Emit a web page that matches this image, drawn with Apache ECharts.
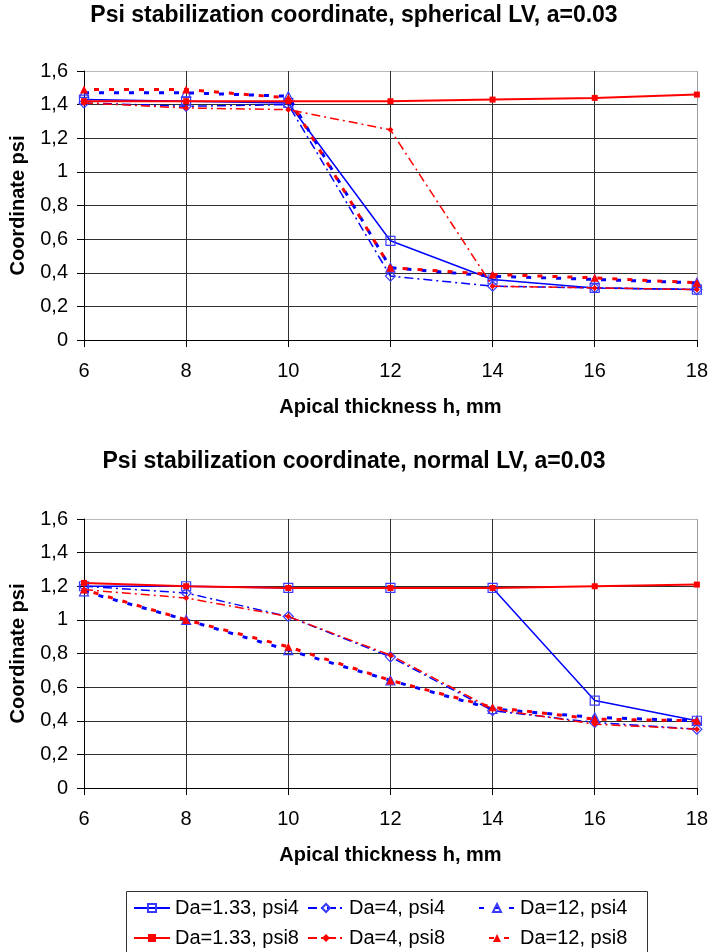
<!DOCTYPE html>
<html>
<head>
<meta charset="utf-8">
<script src="https://cdn.jsdelivr.net/npm/echarts@6/dist/echarts.min.js"></script>
<style>
html,body{margin:0;padding:0;background:#fff;}
#main{width:711px;height:952px;}
</style>
</head>
<body>
<div id="main"></div>
<script>
// ---- data ----
var thickness = [6, 8, 10, 12, 14, 16, 18];
var yTicks = [0, 0.2, 0.4, 0.6, 0.8, 1, 1.2, 1.4, 1.6];

var seriesNames = ['Da=1.33, psi4', 'Da=4, psi4', 'Da=12, psi4', 'Da=1.33, psi8', 'Da=4, psi8', 'Da=12, psi8'];

// spherical LV
var sph_133_psi4 = [1.43, 1.42, 1.41, 0.59, 0.36, 0.31, 0.30];
var sph_4_psi4   = [1.41, 1.39, 1.40, 0.38, 0.32, 0.31, 0.30];
var sph_12_psi4  = [1.47, 1.47, 1.45, 0.43, 0.38, 0.36, 0.34];
var sph_133_psi8 = [1.42, 1.42, 1.42, 1.42, 1.43, 1.44, 1.46];
var sph_4_psi8   = [1.41, 1.38, 1.37, 1.25, 0.32, 0.31, 0.30];
var sph_12_psi8  = [1.49, 1.49, 1.44, 0.43, 0.39, 0.37, 0.34];

// normal LV
var nor_133_psi4 = [1.20, 1.20, 1.19, 1.19, 1.19, 0.52, 0.40];
var nor_4_psi4   = [1.20, 1.16, 1.02, 0.78, 0.46, 0.39, 0.35];
var nor_12_psi4  = [1.17, 1.00, 0.82, 0.64, 0.47, 0.42, 0.40];
var nor_133_psi8 = [1.22, 1.20, 1.19, 1.19, 1.19, 1.20, 1.21];
var nor_4_psi8   = [1.18, 1.13, 1.02, 0.79, 0.47, 0.38, 0.35];
var nor_12_psi8  = [1.18, 1.00, 0.84, 0.64, 0.48, 0.41, 0.40];

var sphData = [sph_133_psi4, sph_4_psi4, sph_12_psi4, sph_133_psi8, sph_4_psi8, sph_12_psi8];
var norData = [nor_133_psi4, nor_4_psi4, nor_12_psi4, nor_133_psi8, nor_4_psi8, nor_12_psi8];

// ---- styles ----
var BLUE = '#0000ff', RED = '#ff0000';
var styles = [
  {line: {color: BLUE, width: 1.5, type: 'solid'}, symbol: 'rect', size: 9, item: {color: 'rgba(0,0,0,0)', borderColor: '#3a3aff', borderWidth: 1.2}},
  {line: {color: BLUE, width: 1.5, type: [9, 4, 2, 4]}, symbol: 'diamond', size: 10, item: {color: 'rgba(0,0,0,0)', borderColor: '#3a3aff', borderWidth: 1.2}},
  {line: {color: BLUE, width: 3, type: [5, 10], dashOffset: 0}, symbol: 'triangle', size: 9, item: {color: 'rgba(0,0,0,0)', borderColor: '#3a3aff', borderWidth: 1.2}},
  {line: {color: RED, width: 2, type: 'solid'}, symbol: 'rect', size: 6, item: {color: RED, borderWidth: 0}},
  {line: {color: RED, width: 1.5, type: [9, 4, 2, 4]}, symbol: 'diamond', size: 6, item: {color: RED, borderWidth: 0}},
  {line: {color: RED, width: 3, type: [5, 10], dashOffset: 5}, symbol: 'triangle', size: 8, item: {color: RED, borderWidth: 0}}
];

var FONT = '"Liberation Sans", Arial, sans-serif';

function fmt(v) { return String(+(+v).toFixed(1)).replace('.', ','); }

function xAxisFor(gi) {
  return {
    gridIndex: gi, type: 'value', min: 6, max: 18, interval: 2,
    name: 'Apical thickness h, mm', nameLocation: 'middle', nameGap: 57,
    nameTextStyle: {fontFamily: FONT, fontSize: 20, fontWeight: 'bold', color: '#000'},
    axisLine: {lineStyle: {color: '#000', width: 1}},
    axisTick: {show: true, length: 7, lineStyle: {color: '#000'}},
    axisLabel: {fontFamily: FONT, fontSize: 20, color: '#000', margin: 21},
    splitLine: {show: true, lineStyle: {color: ['#303030', '#303030', '#303030', '#303030', '#303030', '#303030', '#a0a0a0'], width: 1}}
  };
}
function yAxisFor(gi) {
  return {
    gridIndex: gi, type: 'value', min: 0, max: 1.6, interval: 0.2,
    name: 'Coordinate psi', nameLocation: 'middle', nameGap: 56,
    nameTextStyle: {fontFamily: FONT, fontSize: 20, fontWeight: 'bold', color: '#000'},
    axisLine: {show: true, lineStyle: {color: '#000', width: 1}},
    axisTick: {show: true, length: 7, lineStyle: {color: '#000'}},
    axisLabel: {fontFamily: FONT, fontSize: 20, color: '#000', margin: 16, formatter: fmt},
    splitLine: {show: true, lineStyle: {color: ['#303030', '#303030', '#303030', '#303030', '#303030', '#303030', '#303030', '#303030', '#b8b8b8'], width: 1}}
  };
}

var series = [];
[sphData, norData].forEach(function (set, gi) {
  set.forEach(function (vals, k) {
    var st = styles[k];
    series.push({
      name: seriesNames[k], type: 'line', xAxisIndex: gi, yAxisIndex: gi,
      data: thickness.map(function (x, i) { return [x, vals[i]]; }),
      symbol: st.symbol, symbolSize: st.size, showSymbol: true,
      lineStyle: st.line, itemStyle: st.item, color: st.line.color,
      z: 2 + k, emphasis: {disabled: true}
    });
  });
});

function legendAt(left, names) {
  return {
    orient: 'vertical', left: left, top: 898, padding: 0,
    itemWidth: 36, itemHeight: 10, itemGap: 10,
    textStyle: {fontFamily: FONT, fontSize: 20, color: '#000'},
    data: names, selectedMode: false
  };
}

var option = {
  animation: false,
  backgroundColor: '#fff',
  title: [
    {text: 'Psi stabilization coordinate, spherical LV, a=0.03', left: 354, top: 4, textAlign: 'center', padding: 0,
     textStyle: {fontFamily: FONT, fontSize: 23, fontWeight: 'bold', color: '#000'}},
    {text: 'Psi stabilization coordinate, normal LV, a=0.03', left: 354, top: 450.5, textAlign: 'center', padding: 0,
     textStyle: {fontFamily: FONT, fontSize: 23, fontWeight: 'bold', color: '#000'}}
  ],
  grid: [
    {left: 83, right: 13, top: 71, height: 269},
    {left: 83, right: 13, top: 519, height: 269}
  ],
  xAxis: [xAxisFor(0), xAxisFor(1)],
  yAxis: [yAxisFor(0), yAxisFor(1)],
  legend: [
    legendAt(133, [seriesNames[0], seriesNames[3]]),
    legendAt(307, [seriesNames[1], seriesNames[4]]),
    legendAt(478, [seriesNames[2], seriesNames[5]])
  ],
  graphic: [
    {type: 'rect', shape: {x: 126.5, y: 891.5, width: 521, height: 80}, style: {fill: 'none', stroke: '#333', lineWidth: 1}, z: 0}
  ],
  series: series
};

var chart = echarts.init(document.getElementById('main'), null, {renderer: 'canvas'});
chart.setOption(option);
</script>
</body>
</html>
